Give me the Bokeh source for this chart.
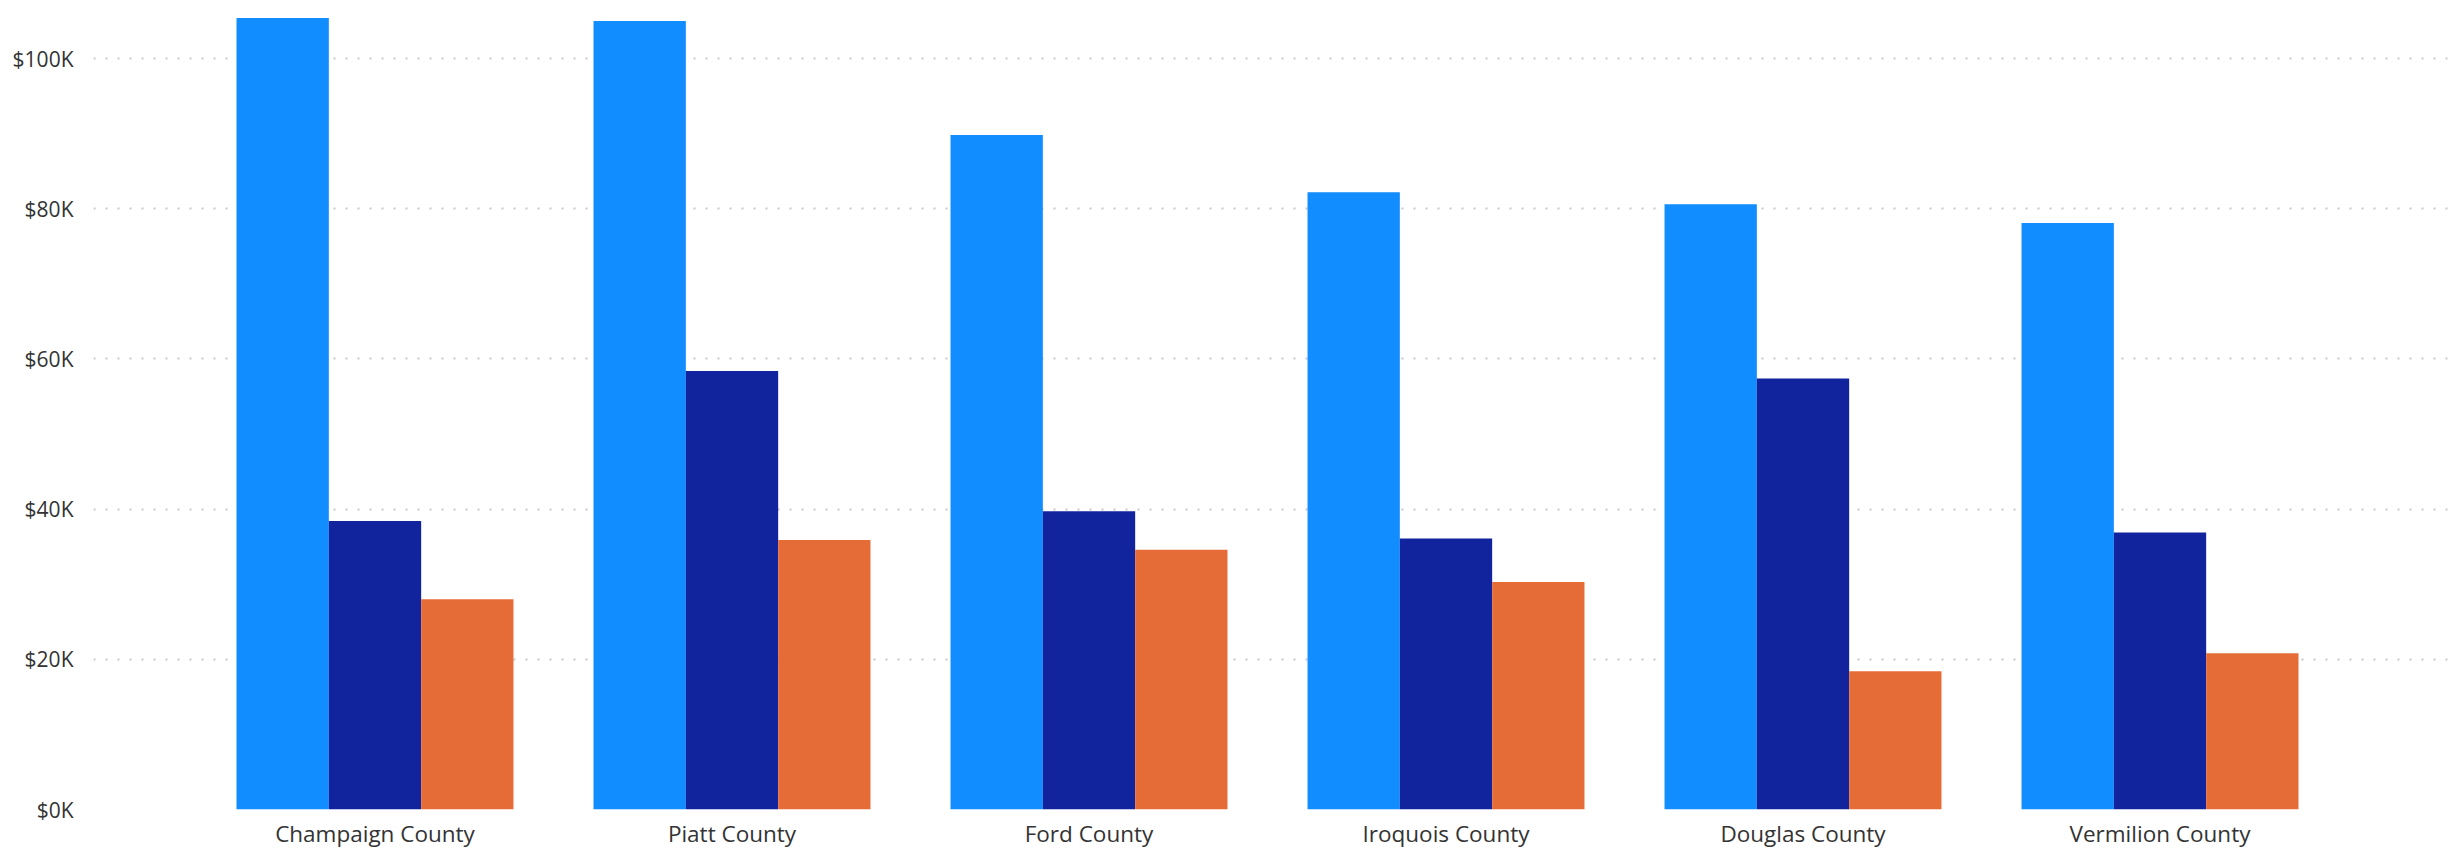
import numpy as np
from bokeh.plotting import figure
from bokeh.models import ColumnDataSource, Range1d, FixedTicker, CustomJSTickFormatter
from bokeh.transform import dodge
from bokeh.embed import file_html
from bokeh.resources import INLINE

counties = ["Champaign County", "Piatt County", "Ford County",
            "Iroquois County", "Douglas County", "Vermilion County"]
series_a = [105400, 105000, 89800, 82200, 80600, 78100]
series_b = [38400, 58400, 39700, 36100, 57400, 36900]
series_c = [28000, 35900, 34600, 30300, 18400, 20800]
y_ticks = [0, 20000, 40000, 60000, 80000, 100000]

colors = ["#118DFF", "#12239E", "#E66C37"]

src = ColumnDataSource(dict(x=list(range(len(counties))), a=series_a, b=series_b, c=series_c))

p = figure(width=2451, height=851, output_backend="svg", toolbar_location=None,
           x_range=Range1d(-0.7885, 5.8137), y_range=Range1d(0, 106660),
           min_border_left=93, min_border_right=1, min_border_top=8, min_border_bottom=42)
p.outline_line_color = None
p.background_fill_color = "white"
p.border_fill_color = "white"

w = 0.2586
for col, off, c in zip(["a", "b", "c"], [-w, 0, w], colors):
    p.vbar(x=dodge("x", off), top=col, width=w, bottom=0, source=src,
           fill_color=c, line_color=None)

p.xgrid.grid_line_color = None
p.ygrid.grid_line_color = "#c8c8c8"
p.ygrid.grid_line_dash = "2 10"
p.ygrid.grid_line_width = 2
p.ygrid.ticker = FixedTicker(ticks=y_ticks)

p.yaxis.ticker = FixedTicker(ticks=y_ticks)
p.yaxis.formatter = CustomJSTickFormatter(code="return '$' + (tick/1000).toFixed(0) + 'K';")
p.xaxis.ticker = FixedTicker(ticks=list(range(len(counties))))
p.xaxis.major_label_overrides = {i: n for i, n in enumerate(counties)}

for ax in (p.xaxis[0], p.yaxis[0]):
    ax.axis_line_color = None
    ax.major_tick_line_color = None
    ax.minor_tick_line_color = None
    ax.major_tick_out = 0
    ax.major_tick_in = 0
    ax.major_label_text_font = "Open Sans"
    ax.major_label_text_font_size = "21px"
    ax.major_label_text_color = "#333333"

p.xaxis.major_label_text_font_size = "22.5px"
p.yaxis.major_label_standoff = 20
p.xaxis.major_label_standoff = 8

open("out.html", "w").write(file_html(p, INLINE))
